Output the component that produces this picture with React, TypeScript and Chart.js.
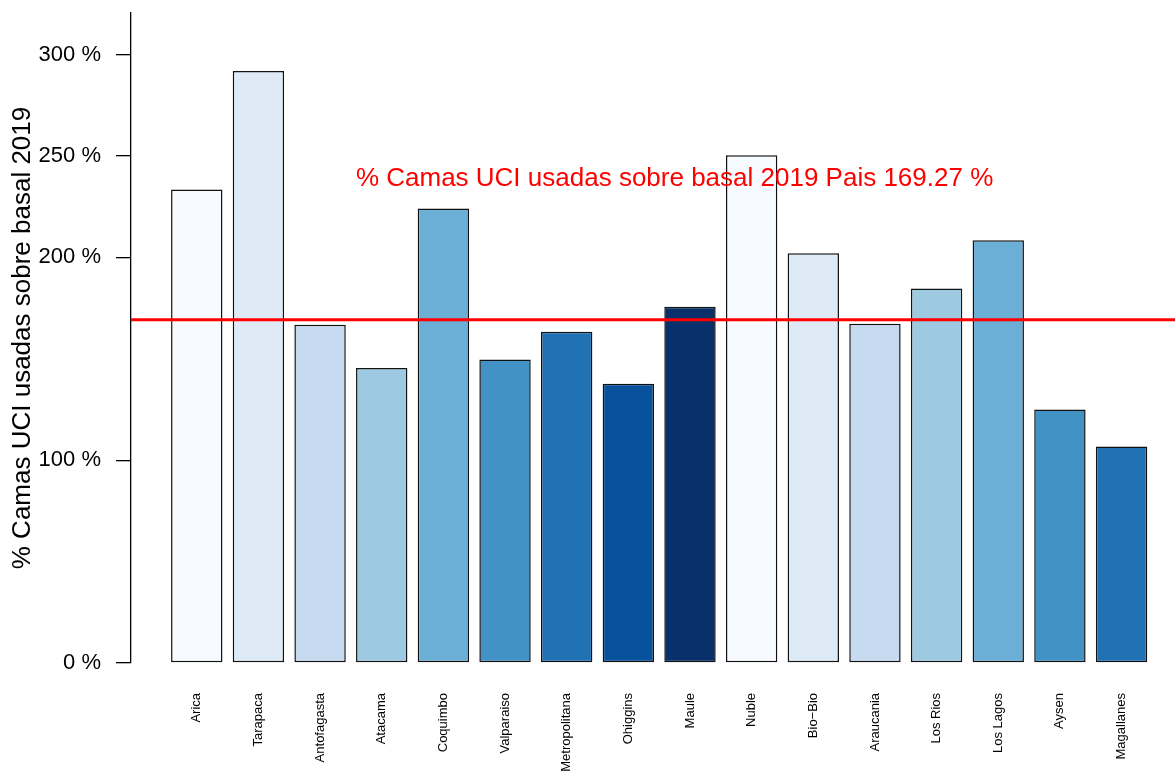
import React, { useEffect, useRef } from "react";
import { Chart, registerables } from "chart.js";

Chart.register(...registerables);

const regions = [
  "Arica", "Tarapaca", "Antofagasta", "Atacama", "Coquimbo", "Valparaiso",
  "Metropolitana", "Ohiggins", "Maule", "Nuble", "Bio\u2212Bio", "Araucania",
  "Los Rios", "Los Lagos", "Aysen", "Magallanes",
];
const usagePct = [
  233.5, 291.9, 166.8, 145.4, 224.1, 149.7, 163.3, 137.7,
  175.7, 250.3, 202.0, 167.3, 184.7, 208.4, 125.0, 106.8,
];
const barColors = [
  "#F7FBFF", "#DEEBF7", "#C6DBEF", "#9ECAE1", "#6BAED6", "#4292C6",
  "#2171B5", "#08519C", "#08306B", "#F7FBFF", "#DEEBF7", "#C6DBEF",
  "#9ECAE1", "#6BAED6", "#4292C6", "#2171B5",
];
const yTicks = [0, 100, 200, 250, 300];
const countryPct = 169.27;
const annotationText = "% Camas UCI usadas sobre basal 2019 Pais 169.27 %";
const yTitle = "% Camas UCI usadas sobre basal 2019";

const FONT = "'Liberation Sans', Arial, Helvetica, sans-serif";

// R barplot style positions: width 1, space 0.2
const barX = regions.map((_, i) => 0.7 + 1.2 * i);

export default function App() {
  const ref = useRef<HTMLCanvasElement | null>(null);

  useEffect(() => {
    if (!ref.current) return;
    const refPlugin = {
      id: "refline",
      afterDatasetsDraw(chart: any) {
        const { ctx, chartArea, scales } = chart;
        const y = scales.y.getPixelForValue(countryPct);
        ctx.save();
        ctx.strokeStyle = "#FF0000";
        ctx.lineWidth = 3;
        ctx.beginPath();
        ctx.moveTo(chartArea.left, y);
        ctx.lineTo(chartArea.right, y);
        ctx.stroke();
        ctx.fillStyle = "#FF0000";
        ctx.font = `26px ${FONT}`;
        ctx.textAlign = "center";
        ctx.textBaseline = "middle";
        ctx.fillText(annotationText, scales.x.getPixelForValue(10), scales.y.getPixelForValue(238.8));
        ctx.restore();
      },
    };

    const chart = new Chart(ref.current, {
      type: "bar",
      data: {
        datasets: [
          {
            data: barX.map((x, i) => ({ x, y: usagePct[i] })),
            backgroundColor: barColors,
            borderColor: "#111111",
            borderWidth: 1.5,
            borderSkipped: false,
            barPercentage: 1,
            categoryPercentage: 1 / 1.2,
          },
        ],
      },
      options: {
        animation: false,
        responsive: false,
        maintainAspectRatio: false,
        layout: { padding: { top: 13, left: 0, right: 0, bottom: 0 } },
        plugins: { legend: { display: false }, tooltip: { enabled: false } },
        scales: {
          x: {
            type: "linear",
            min: -0.58,
            max: 19.74,
            offset: false,
            grid: { display: false, drawTicks: false, offset: false },
            border: { display: false },
            afterBuildTicks: (scale: any) => {
              scale.ticks = barX.map((v) => ({ value: v }));
            },
            afterFit: (scale: any) => {
              scale.height = 109;
              scale.paddingLeft = 0;
              scale.paddingRight = 0;
            },
            ticks: {
              autoSkip: false,
              minRotation: 90,
              maxRotation: 90,
              padding: 30,
              color: "#000000",
              font: { size: 13, family: FONT },
              callback: (_v: any, i: number) => regions[i],
            },
          },
          y: {
            min: 0,
            max: 320.5,
            afterBuildTicks: (scale: any) => {
              scale.ticks = yTicks.map((v) => ({ value: v }));
            },
            afterFit: (scale: any) => {
              scale.width = 131;
              scale.paddingTop = 0;
              scale.paddingBottom = 0;
            },
            grid: {
              drawOnChartArea: false,
              drawTicks: true,
              tickLength: 15,
              color: "#000000",
              lineWidth: 1.3,
            },
            border: { display: true, color: "#000000", width: 1.3 },
            ticks: {
              padding: 15,
              color: "#000000",
              font: { size: 22, family: FONT },
              callback: (v: any) => `${v} %`,
            },
            title: {
              display: true,
              text: yTitle,
              color: "#000000",
              font: { size: 26, family: FONT },
              padding: { top: 7, bottom: 0 },
            },
          },
        },
      },
      plugins: [refPlugin],
    });
    return () => chart.destroy();
  }, []);

  return (
    <div style={{ position: "fixed", left: 0, top: 0, width: 1175, height: 772, background: "#fff" }}>
      <canvas ref={ref} width={1175} height={772} style={{ width: 1175, height: 772, display: "block" }} />
    </div>
  );
}
